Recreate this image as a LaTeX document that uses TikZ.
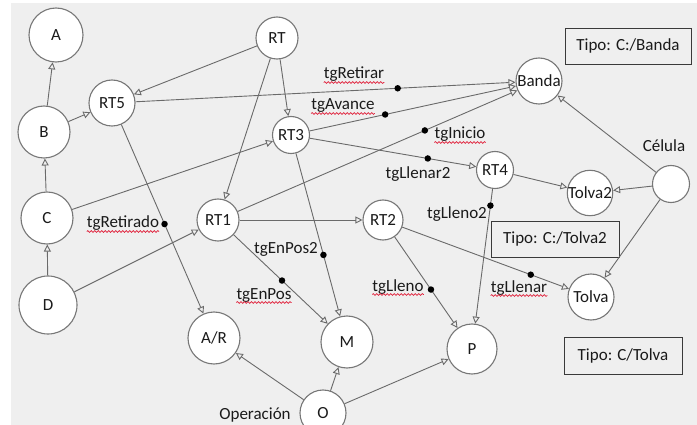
\documentclass[tikz,border=0pt]{standalone}
\usepackage{fontspec}
\setmainfont{Carlito}
\usetikzlibrary{arrows.meta,decorations.pathmorphing}
\definecolor{bg}{HTML}{EFEFEF}
\definecolor{ln}{HTML}{6A6A6A}
\definecolor{cb}{HTML}{777777}
\definecolor{bx}{HTML}{3A3A3A}
\definecolor{wv}{HTML}{E0203A}
\definecolor{tx}{HTML}{1A1A1A}
\begin{document}
\begin{tikzpicture}[x=1pt,y=-1pt,
  nd/.style={circle,draw=cb,line width=1.1pt,fill=white,inner sep=0pt,minimum size=#1,text=tx,font=\fontsize{17}{20}\selectfont},
  edge/.style={draw=ln,line width=0.9pt,-{Triangle[open,length=7pt,width=7pt]}},
  dotm/.style={circle,fill=black,inner sep=0pt,minimum size=6.5pt},
  lbl/.style={inner sep=0pt,anchor=base,text=tx,font=\fontsize{17}{20}\selectfont},
  wavy/.style={draw=wv,line width=0.7pt,decorate,decoration={snake,amplitude=0.9pt,segment length=3.5pt}},
  tbox/.style={draw=bx,line width=0.9pt,inner sep=0pt,text=tx,font=\fontsize{17}{20}\selectfont}
]
\useasboundingbox (0,0) rectangle (697,425);
\clip (0,0) rectangle (697,425);
\fill[bg] (11,3) rectangle (697,425);

% nodes
\node[nd=54] (A) at (56,35) {A};
\node[nd=52] (B) at (44,132) {B};
\node[nd=46] (RT5) at (112,103) {RT5};
\node[nd=52] (C) at (47,218) {C};
\node[nd=58] (D) at (48,305) {D};
\node[nd=42] (RT) at (277,38) {RT};
\node[nd=37] (RT3) at (291,135) {RT3};
\node[nd=42] (RT1) at (218,220) {RT1};
\node[nd=40] (RT2) at (383,220) {RT2};
\node[nd=37] (RT4) at (495,170) {RT4};
\node[nd=46] (Banda) at (539,81) {Banda};
\node[nd=45] (Tolva2) at (590,193) {Tolva2};
\node[nd=37] (Cel) at (671,184) {};
\node[nd=46] (Tolva) at (591,297) {Tolva};
\node[nd=50] (P) at (472,349) {P};
\node[nd=52] (M) at (347,342) {M};
\node[nd=52] (AR) at (214,338) {A/R};
\node[nd=46] (O) at (323,413) {O};

% boxes
\node[tbox,minimum width=126pt,minimum height=36pt] (bBanda) at (628,46) {Tipo: C:/Banda};
\node[tbox,minimum width=128pt,minimum height=36pt] (bTolva2) at (555,239) {Tipo: C:/Tolva2};
\node[tbox,minimum width=118pt,minimum height=37pt] (bTolva) at (623,355.5) {Tipo: C/Tolva};

% plain edges
\draw[edge] (B) -- (A);
\draw[edge] (C) -- (B);
\draw[edge] (D) -- (C);
\draw[edge] (B) -- (RT5);
\draw[edge] (RT) -- (RT5);
\draw[edge] (RT) -- (RT3);
\draw[edge] (RT) -- (RT1);
\draw[edge] (C) -- (RT3);
\draw[edge] (D) -- (RT1);
\draw[edge] (RT1) -- (RT2);
\draw[edge] (RT4) -- (Tolva2);
\draw[edge] (Cel) -- (Tolva2);
\draw[edge] (Cel) -- (Banda);
\draw[edge] (Cel) -- (Tolva);
\draw[edge] (O) -- (AR);
\draw[edge] (O) -- (M);
\draw[edge] (O) -- (P);

% edges with dots
\draw[edge] (RT5) -- node[dotm,pos=0.69]{} (Banda);
\draw[edge] (RT3) -- node[dotm,pos=0.366]{} (Banda);
\draw[edge] (RT1) -- node[dotm,pos=0.669]{} (Banda);
\draw[edge] (RT3) -- node[dotm,pos=0.709]{} (RT4);
\draw[edge] (RT5) -- node[dotm,pos=0.526]{} (AR);
\draw[edge] (RT1) -- node[dotm,pos=0.514]{} (M);
\draw[edge] (RT3) -- node[dotm,pos=0.623]{} (M);
\draw[edge] (RT2) -- node[dotm,pos=0.578]{} (P);
\draw[edge] (RT2) -- node[dotm,pos=0.771]{} (Tolva);
\draw[edge] (RT4) -- node[dotm,pos=0.124]{} (P);

% labels
\node[lbl] (lRetirar) at (354,79) {tgRetirar};
\node[lbl] (lAvance) at (343,110) {tgAvance};
\node[lbl] (lInicio) at (460,139) {tgInicio};
\node[lbl] (lLlenar2) at (418,179) {tgLlenar2};
\node[lbl] (lLleno2) at (457,219) {tgLleno2};
\node[lbl] (lRetirado) at (123,228) {tgRetirado};
\node[lbl] (lEnPos2) at (286,254) {tgEnPos2};
\node[lbl] (lEnPos) at (264,299) {tgEnPos};
\node[lbl] (lLleno) at (398,291) {tgLleno};
\node[lbl] (lLlenar) at (519,292) {tgLlenar};
\node[lbl] (lCel) at (664,152) {Célula};
\node[lbl] (lOp) at (255,419) {Operación};

% spell-check underlines
\foreach \n in {lRetirar,lAvance,lInicio,lRetirado,lEnPos,lLleno,lLlenar}{
  \draw[wavy] ([yshift=-3.5pt]\n.base west) -- ([yshift=-3.5pt]\n.base east);
}
\end{tikzpicture}
\end{document}
